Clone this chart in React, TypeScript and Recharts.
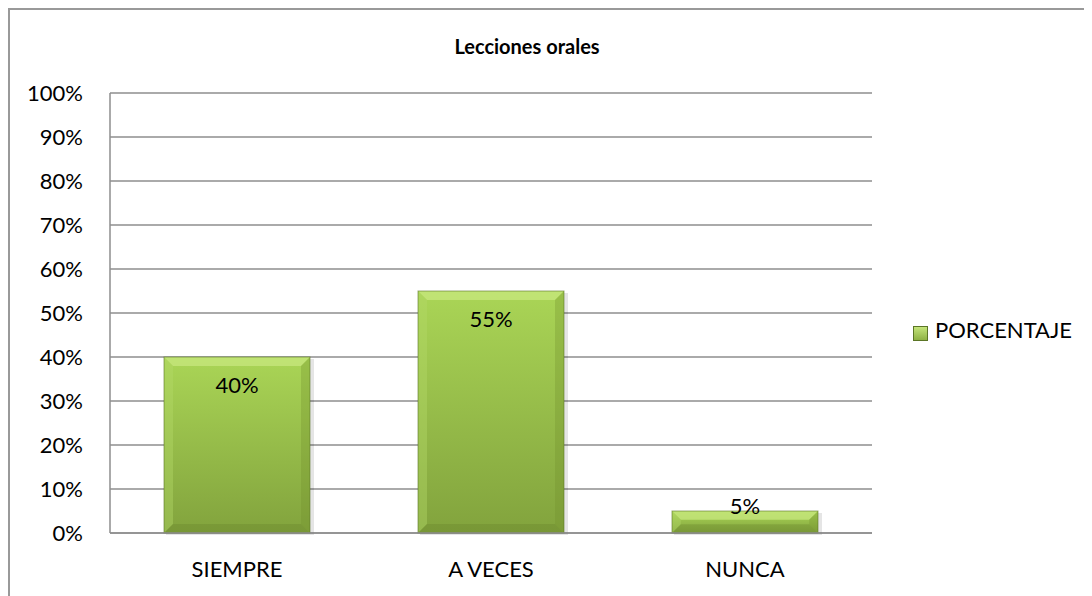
import { BarChart, Bar, XAxis, YAxis, CartesianGrid, LabelList } from 'recharts'

const categories = ['SIEMPRE', 'A VECES', 'NUNCA']
const porcentaje = [0.4, 0.55, 0.05]
const yTicks = [0, 0.1, 0.2, 0.3, 0.4, 0.5, 0.6, 0.7, 0.8, 0.9, 1]
const seriesName = 'PORCENTAJE'

const data = categories.map((name, i) => ({ name, value: porcentaje[i] }))

const FONT = 'Lato, "Open Sans", sans-serif'
const GRID = '#8e8e8e'

// bar with bevelled edges like the office chart style
const BevelBar = (props: any) => {
  const { x, y, width, height, index } = props
  if (!height || height <= 0) return null
  const b = Math.min(9, height / 2.5)
  const id = `face-${index}`
  return (
    <g>
      <defs>
        <linearGradient id={id} x1="0" y1="0" x2="0" y2="1">
          <stop offset="0%" stopColor="#aad556" />
          <stop offset="100%" stopColor="#82a33d" />
        </linearGradient>
      </defs>
      <rect x={x + 2} y={y + 2} width={width + 2} height={height} fill="#000" opacity={0.1} />
      <rect x={x} y={y} width={width} height={height} fill={`url(#${id})`} />
      <polygon points={`${x},${y} ${x + width},${y} ${x + width - b},${y + b} ${x + b},${y + b}`} fill="#c6e67c" opacity={0.8} />
      <polygon points={`${x},${y} ${x + b},${y + b} ${x + b},${y + height - b} ${x},${y + height}`} fill="#b4d968" opacity={0.4} />
      <polygon points={`${x + width},${y} ${x + width - b},${y + b} ${x + width - b},${y + height - b} ${x + width},${y + height}`} fill="#6f8f2c" opacity={0.3} />
      <polygon points={`${x},${y + height} ${x + b},${y + height - b} ${x + width - b},${y + height - b} ${x + width},${y + height}`} fill="#637f27" opacity={0.3} />
      <rect x={x} y={y} width={width} height={height} fill="none" stroke="#5b7526" strokeWidth={1} strokeOpacity={0.6} />
    </g>
  )
}

const BarLabel = (props: any) => {
  const { x, y, width, height, value } = props
  const baseline = height > 50 ? y + 36 : y + 3
  return (
    <text x={x + width / 2} y={baseline} textAnchor="middle" fontFamily={FONT} fontSize={22} fill="#000">
      {`${Math.round(value * 100)}%`}
    </text>
  )
}

export default function App() {
  return (
    <div
      style={{
        position: 'relative',
        width: 1082,
        height: 586,
        borderTop: '2px solid #999',
        borderLeft: '2px solid #999',
        background: '#fff',
      }}
    >
      <div
        style={{
          position: 'absolute',
          left: 0,
          top: 26,
          width: 1034,
          textAlign: 'center',
          fontFamily: FONT,
          fontWeight: 700,
          fontSize: 20,
          lineHeight: '20px',
        }}
      >
        Lecciones orales
      </div>
      {/* legend */}
      <div
        style={{
          position: 'absolute',
          left: 903,
          top: 309,
          display: 'flex',
          alignItems: 'flex-start',
          fontFamily: FONT,
          fontSize: 22,
          lineHeight: '22px',
          color: '#000',
        }}
      >
        <div
          style={{
            width: 15,
            height: 15,
            marginTop: 7,
            marginRight: 7,
            boxSizing: 'border-box',
            border: '1px solid #5b7526',
            background: 'linear-gradient(#c4e47a, #8fb244)',
          }}
        />
        <span>{seriesName}</span>
      </div>
      <BarChart width={1082} height={586} data={data} margin={{ top: 83, right: 220, left: 0, bottom: 0 }}>
        <CartesianGrid vertical={false} stroke={GRID} strokeWidth={1.5} />
        <XAxis
          dataKey="name"
          height={63}
          axisLine={{ stroke: GRID, strokeWidth: 1.5 }}
          tickLine={false}
          tickSize={6}
          tickMargin={22}
          tick={{ fontFamily: FONT, fontSize: 22, fill: '#000' }}
        />
        <YAxis
          width={100}
          domain={[0, 1]}
          ticks={yTicks}
          tickFormatter={(v: number) => `${Math.round(v * 100)}%`}
          axisLine={{ stroke: GRID, strokeWidth: 1.5 }}
          tickLine={false}
          tickSize={6}
          tickMargin={21}
          tick={{ fontFamily: FONT, fontSize: 22, fill: '#000' }}
        />
        <Bar dataKey="value" name={seriesName} barSize={146} shape={<BevelBar />} isAnimationActive={false}>
          <LabelList dataKey="value" content={<BarLabel />} />
        </Bar>
      </BarChart>
    </div>
  )
}
